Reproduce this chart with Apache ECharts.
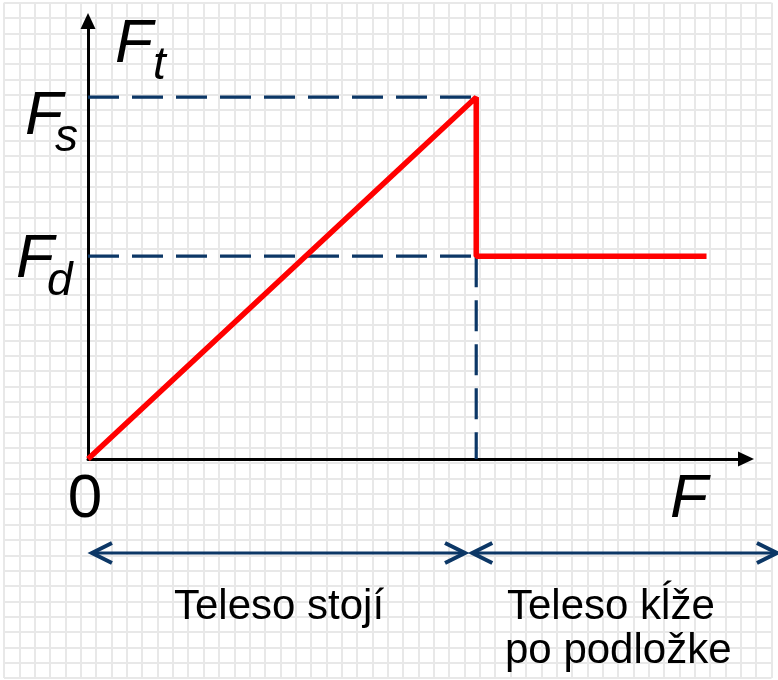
<!DOCTYPE html>
<html>
<head>
<meta charset="utf-8">
<title>Ft – F</title>
<script src="https://cdn.jsdelivr.net/npm/echarts@6.0.0/dist/echarts.min.js"></script>
<style>
  html, body { margin: 0; padding: 0; background: #fff; }
  #chart { width: 778px; height: 680px; }
</style>
</head>
<body>
<div id="chart"></div>
<script>
// hodnoty odčítané z obrázka (os x aj y 0..100)
const forceApplied = [0, 59, 59, 94]      // F
const frictionForce = [0, 82.6, 46.3, 46.3] // Ft
const staticLevel = 82.6   // Fs
const dynamicLevel = 46.3  // Fd
const breakPoint = 59      // F, pri ktorej sa teleso pohne
const phaseSpans = [[0.6, 57.3], [58.4, 104.7]] // šípky pod osou

const FONT = '"Liberation Sans", Arial, sans-serif'
const NAVY = '#0c3766'

const redLine = forceApplied.map((x, i) => [x, frictionForce[i]])
const guideFs = [[0, staticLevel], [breakPoint, staticLevel]]
const guideFd = [[0, dynamicLevel], [breakPoint, dynamicLevel]]
const guideV = [[breakPoint, dynamicLevel], [breakPoint, 0]]

const dashStyle = { color: NAVY, width: 3.2, type: [31, 13] }

function txt(text, x, y, size, italic, align) {
  return {
    type: 'text',
    z: 100,
    style: {
      text,
      x,
      y,
      font: (italic ? 'italic ' : '') + size + 'px ' + FONT,
      fill: '#000',
      align: align || 'left',
      textAlign: align || 'left',
      verticalAlign: 'middle',
      textVerticalAlign: 'middle',
    },
  }
}

// obojstranná šípka
function renderSpan(params, api) {
  const a = api.coord([api.value(0), 0.5])
  const b = api.coord([api.value(1), 0.5])
  const s = { stroke: NAVY, lineWidth: 4, fill: null, lineJoin: 'miter' }
  return {
    type: 'group',
    children: [
      { type: 'line', shape: { x1: a[0], y1: a[1], x2: b[0], y2: b[1] }, style: { stroke: NAVY, lineWidth: 3 } },
      { type: 'polyline', shape: { points: [[a[0] + 20, a[1] - 10], [a[0], a[1]], [a[0] + 20, a[1] + 10]] }, style: s },
      { type: 'polyline', shape: { points: [[b[0] - 20, b[1] - 10], [b[0], b[1]], [b[0] - 20, b[1] + 10]] }, style: s },
    ],
  }
}

const hidden = { show: false }
const axisLineStyle = {
  show: true,
  symbol: ['none', 'triangle'],
  symbolSize: [15, 16],
  lineStyle: { color: '#000', width: 3 },
}

const chart = echarts.init(document.getElementById('chart'))
chart.setOption({
  animation: false,
  grid: [
    // pozadie - štvorčekový papier
    { left: 4, top: 2.65, width: 767.5, height: 675.4 },
    // hlavný graf
    { left: 88, top: 21, width: 658, height: 438 },
    // šípky pod osou
    { left: 88, top: 540, width: 658, height: 26 },
  ],
  xAxis: [
    {
      gridIndex: 0, type: 'value', min: 0, max: 50, interval: 1,
      axisLine: hidden, axisTick: hidden, axisLabel: hidden,
      splitLine: { show: true, lineStyle: { color: '#e8e8e8', width: 2 } },
    },
    {
      gridIndex: 1, type: 'value', min: 0, max: 100,
      axisLine: axisLineStyle, axisTick: hidden, axisLabel: hidden, splitLine: hidden,
    },
    {
      gridIndex: 2, type: 'value', min: 0, max: 100,
      axisLine: hidden, axisTick: hidden, axisLabel: hidden, splitLine: hidden,
    },
  ],
  yAxis: [
    {
      gridIndex: 0, type: 'value', min: 0, max: 44, interval: 1,
      axisLine: hidden, axisTick: hidden, axisLabel: hidden,
      splitLine: { show: true, lineStyle: { color: '#e8e8e8', width: 2 } },
    },
    {
      gridIndex: 1, type: 'value', min: 0, max: 100,
      axisLine: axisLineStyle, axisTick: hidden, axisLabel: hidden, splitLine: hidden,
    },
    {
      gridIndex: 2, type: 'value', min: 0, max: 1,
      axisLine: hidden, axisTick: hidden, axisLabel: hidden, splitLine: hidden,
    },
  ],
  series: [
    { type: 'line', xAxisIndex: 1, yAxisIndex: 1, data: guideFs, symbol: 'none', lineStyle: dashStyle, z: 3 },
    { type: 'line', xAxisIndex: 1, yAxisIndex: 1, data: guideFd, symbol: 'none', lineStyle: dashStyle, z: 3 },
    { type: 'line', xAxisIndex: 1, yAxisIndex: 1, data: guideV, symbol: 'none', lineStyle: dashStyle, z: 3 },
    {
      type: 'line', xAxisIndex: 1, yAxisIndex: 1, data: redLine, symbol: 'none', z: 5,
      lineStyle: { color: '#ff0000', width: 5.5 },
    },
    {
      type: 'custom', xAxisIndex: 2, yAxisIndex: 2, data: phaseSpans, renderItem: renderSpan, z: 5,
    },
  ],
  graphic: [
    txt('F', 115, 45, 62, true),
    txt('t', 153, 66, 46, true),
    txt('F', 25, 117, 62, true),
    txt('s', 55, 138, 46, true),
    txt('F', 16, 260, 62, true),
    txt('d', 47, 282, 46, true),
    txt('0', 85, 500, 62, false, 'center'),
    txt('F', 670, 500, 62, true),
    txt('Teleso stojí', 174, 607, 42, false),
    txt('Teleso kĺže', 507, 607, 42, false),
    txt('po podložke', 505, 651, 42, false),
  ],
})
</script>
</body>
</html>
